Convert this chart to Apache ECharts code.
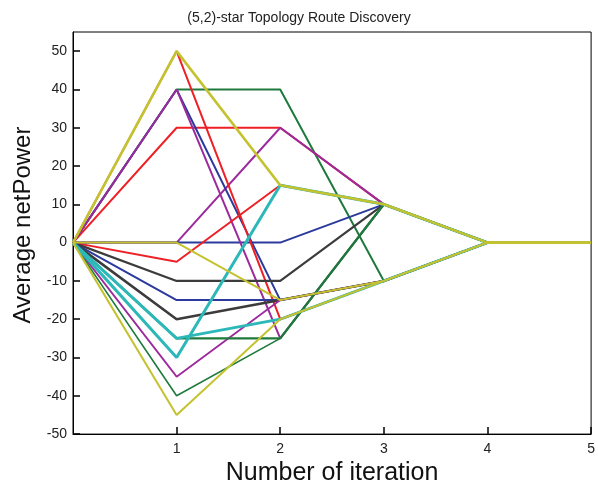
<!DOCTYPE html>
<html>
<head>
<meta charset="utf-8">
<script src="https://cdn.jsdelivr.net/npm/echarts@6/dist/echarts.min.js"></script>
<style>html,body{margin:0;padding:0;background:#fff}#c{width:598px;height:491px}</style>
</head>
<body>
<div id="c"></div>
<script>
var iterations = [0, 1, 2, 3, 4, 5];

var sDarkGreen1 = [0, 40, 40, -10, 0, 0];
var sRed1 = [0, 30, 30, 10, 0, 0];
var sPurple1 = [0, 0, 30, 10, 0, 0];
var sBlue1 = [0, 0, 0, 10, 0, 0];
var sBlue2 = [0, 40, -15, -10, 0, 0];
var sPurple2 = [0, 40, -25, 10, 0, 0];
var sRed2 = [0, 50, -20, -10, 0, 0];
var sRed3 = [0, -5, 15, 10, 0, 0];
var sBlack1 = [0, -10, -10, 10, 0, 0];
var sBlue3 = [0, -15, -15, -10, 0, 0];
var sBlack2 = [0, -20, -15, -10, 0, 0];
var sPurple3 = [0, -35, -15, -10, 0, 0];
var sGreen2 = [0, -40, -25, 10, 0, 0];
var sGreen1 = [0, -25, -25, 10, 0, 0];
var sCyan1 = [0, -25, -20, -10, 0, 0];
var sCyan2 = [0, -30, 15, 10, 0, 0];
var sYellow2 = [0, 0, -15, -10, 0, 0];
var sYellow3 = [0, -45, -20, -10, 0, 0];
var sYellow1 = [0, 50, 15, 10, 0, 0];

var C = {
  yellow: '#c4c22e', red: '#ee2026', purple: '#9c2a9c', blue: '#2b3a9c',
  green: '#1e7a3c', cyan: '#2cb8b8', black: '#3c3c3c'
};

var seriesDefs = [
  [sDarkGreen1, C.green, 2],
  [sRed1, C.red, 2],
  [sPurple1, C.purple, 2],
  [sBlue1, C.blue, 2],
  [sBlue2, C.blue, 2],
  [sPurple2, C.purple, 2],
  [sRed2, C.red, 2],
  [sRed3, C.red, 2],
  [sBlack1, C.black, 2.2],
  [sBlue3, C.blue, 2],
  [sBlack2, C.black, 2.6],
  [sPurple3, C.purple, 1.8],
  [sGreen2, C.green, 1.6],
  [sGreen1, C.green, 2.4],
  [sCyan1, C.cyan, 2.8],
  [sCyan2, C.cyan, 3],
  [sYellow2, C.yellow, 2],
  [sYellow3, C.yellow, 2],
  [sYellow1, C.yellow, 2.6]
];

var series = seriesDefs.map(function (d) {
  return {
    type: 'line',
    data: iterations.map(function (x, i) { return [x, d[0][i]]; }),
    showSymbol: false,
    lineStyle: { color: d[1], width: d[2] },
    itemStyle: { color: d[1] }
  };
});

var fontFam = "'Liberation Sans', Arial, sans-serif";
var chart = echarts.init(document.getElementById('c'));
chart.setOption({
  title: {
    text: '(5,2)-star Topology Route Discovery',
    left: 'center',
    top: 6,
    textStyle: { fontFamily: "'Liberation Sans Narrow', 'Liberation Sans', sans-serif", fontSize: 14, fontWeight: 'normal', color: '#222' }
  },
  grid: { left: 73, right: 6, top: 32, bottom: 52, show: true, borderColor: '#000', borderWidth: 1, backgroundColor: 'transparent' },
  xAxis: {
    type: 'value', min: 0, max: 5, interval: 1,
    name: 'Number of iteration', nameLocation: 'middle', nameGap: 24,
    nameTextStyle: { fontFamily: fontFam, fontSize: 25, color: '#111' },
    axisLine: { show: true, onZero: false, lineStyle: { color: '#000' } },
    axisTick: { show: true, inside: true, length: 7, lineStyle: { color: '#000', width: 1.5 } },
    axisLabel: { fontFamily: fontFam, fontSize: 14, color: '#222', margin: 8, showMinLabel: false },
    splitLine: { show: false }
  },
  yAxis: {
    type: 'value', min: -50, max: 55, interval: 10,
    name: 'Average netPower', nameLocation: 'middle', nameGap: 32,
    nameTextStyle: { fontFamily: fontFam, fontSize: 24, color: '#111', padding: [0, 0, 0, 16] },
    axisLine: { show: true, onZero: false, lineStyle: { color: '#000' } },
    axisTick: { show: true, inside: true, length: 7, lineStyle: { color: '#000', width: 1.5 } },
    axisLabel: { fontFamily: fontFam, fontSize: 14, color: '#222', margin: 6, showMaxLabel: false },
    splitLine: { show: false }
  },
  series: series
});
</script>
</body>
</html>
